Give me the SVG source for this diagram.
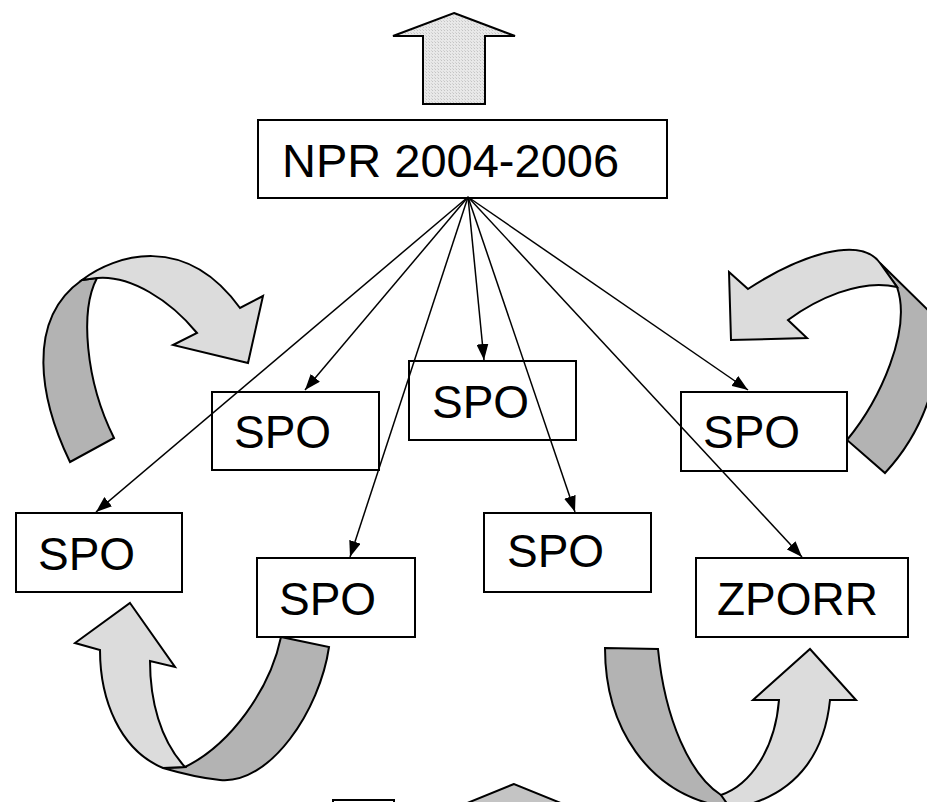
<svg xmlns="http://www.w3.org/2000/svg" width="927" height="802" viewBox="0 0 927 802">
<style>
.box{fill:#ffffff;stroke:#000000;stroke-width:2}
.lbl{font-family:"Liberation Sans",Arial,sans-serif;font-size:46px;fill:#000000}
.light{fill:#dcdcdc;stroke:#000000;stroke-width:2;stroke-linejoin:miter}
.dark{fill:#b3b3b3;stroke:#000000;stroke-width:2;stroke-linejoin:miter}
.conn{stroke:#000000;stroke-width:1.5;fill:none}
</style>
<defs>
<pattern id="dots" width="3" height="3" patternUnits="userSpaceOnUse">
<rect width="3" height="3" fill="#e8e8e8"/>
<rect width="1" height="1" fill="#c4c4c4"/>
<rect x="2" y="2" width="1" height="1" fill="#d2d2d2"/>
</pattern>
<marker id="ah" markerWidth="16" markerHeight="12" refX="16" refY="6" orient="auto" markerUnits="userSpaceOnUse">
<path d="M0,0 L16,6 L0,12 Z" fill="#000000"/>
</marker>
</defs>

<g id="top-arrow">
<polygon points="454,13 515,36 485,36 485,104 423,104 423,36 393,36" fill="url(#dots)" stroke="#000000" stroke-width="2"/>
</g>

<g id="curve-top-left">
<path class="dark" d="M70,462 C40,400 25,320 82,280 L97,278 C80,310 85,380 114,438 Z"/>
<path class="light" d="M82,280 C115,255 185,232 240,308 L263,296 L248,363 L173,345 L197,333 C170,300 130,275 97,278 Z"/>
</g>

<g id="curve-top-right">
<path class="dark" d="M847,440 C880,400 912,330 897,287 L880,263 L936,318 C945,370 925,430 885,473 Z"/>
<path class="light" d="M729,272 L748,289 C800,255 860,235 880,263 L897,287 C860,278 815,300 788,320 L807,338 L731,340 Z"/>
</g>

<g id="curve-bottom-left">
<path class="dark" d="M163,768 L185,767 C230,745 270,690 281,637 L329,647 C320,710 270,785 220,780 C200,778 180,773 163,768 Z"/>
<path class="light" d="M130,603 L175,667 L150,661 C150,700 160,740 185,767 L163,768 C120,750 100,700 100,650 L75,643 Z"/>
</g>

<g id="curve-bottom-right">
<path class="dark" d="M605,648 L658,649 C665,720 690,775 721,795 L735,805 L715,805 C650,790 605,730 605,648 Z"/>
<path class="light" d="M810,649 L856,700 L830,700 C825,750 800,790 747,805 L728,805 L721,795 C750,785 775,750 779,700 L753,700 Z"/>
</g>

<g id="bottom-partial">
<rect x="333" y="800" width="61" height="20" fill="#ffffff" stroke="#000000" stroke-width="2"/>
<polygon points="514,784 455,808 573,808" fill="#c4c4c4" stroke="#000000" stroke-width="2"/>
</g>

<g id="npr">
<rect class="box" x="258" y="120" width="409" height="78"/>
<text class="lbl" x="282" y="177" style="font-size:47px">NPR 2004-2006</text>
</g>
<g id="spo-upper-left">
<rect class="box" x="212" y="392" width="167" height="78"/>
<text class="lbl" x="234" y="448">SPO</text>
</g>
<g id="spo-mid">
<rect class="box" x="409" y="361" width="167" height="79"/>
<text class="lbl" x="432" y="418">SPO</text>
</g>
<g id="spo-right">
<rect class="box" x="681" y="392" width="166" height="79"/>
<text class="lbl" x="703" y="448">SPO</text>
</g>
<g id="spo-left">
<rect class="box" x="16" y="513" width="166" height="79"/>
<text class="lbl" x="38" y="570">SPO</text>
</g>
<g id="spo-lower-left">
<rect class="box" x="257" y="558" width="158" height="79"/>
<text class="lbl" x="279" y="615">SPO</text>
</g>
<g id="spo-lower-mid">
<rect class="box" x="484" y="513" width="167" height="79"/>
<text class="lbl" x="507" y="567">SPO</text>
</g>
<g id="zporr">
<rect class="box" x="696" y="558" width="212" height="79"/>
<text class="lbl" x="717" y="615">ZPORR</text>
</g>

<g id="connectors">
<line class="conn" x1="468" y1="197" x2="96" y2="512" marker-end="url(#ah)"/>
<line class="conn" x1="468" y1="197" x2="305" y2="390" marker-end="url(#ah)"/>
<line class="conn" x1="468" y1="197" x2="350" y2="557" marker-end="url(#ah)"/>
<line class="conn" x1="468" y1="197" x2="484" y2="360" marker-end="url(#ah)"/>
<line class="conn" x1="468" y1="197" x2="575" y2="512" marker-end="url(#ah)"/>
<line class="conn" x1="468" y1="197" x2="802" y2="557" marker-end="url(#ah)"/>
<line class="conn" x1="468" y1="197" x2="748" y2="390" marker-end="url(#ah)"/>
</g>
</svg>
